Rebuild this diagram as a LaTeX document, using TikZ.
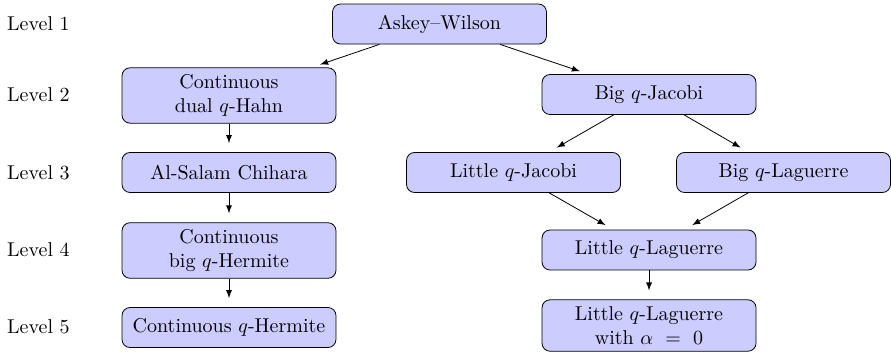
\documentclass[tikz,border=0pt]{standalone}
\begin{document}
\begin{tikzpicture}[>=latex,
    box/.style={draw, fill=blue!20, rounded corners, minimum width=3.76cm,
      minimum height=20pt, align=center},
    level/.style={anchor=west, inner sep=0pt},
    link/.style={->, shorten >=4.5pt}]

    \useasboundingbox (0,0) rectangle (15.657,-6.186);

    % Levels
    \node[level] (l1) at (0.12,-0.42) {Level 1};
    \node[level] (l2) at (0.12,-1.67) {Level 2};
    \node[level] (l3) at (0.12,-3.03) {Level 3};
    \node[level] (l4) at (0.12,-4.39) {Level 4};
    \node[level] (l5) at (0.12,-5.74) {Level 5};

    % Nodes
    \node[box] (aw) at (7.723,-0.422) {Askey--Wilson};
    \node[box] (cdqh) at (4.024,-1.678) {Continuous\\dual $q$-Hahn};
    \node[box] (bqj) at (11.405,-1.661) {Big $q$-Jacobi};
    \node[box] (asc) at (4.024,-3.031) {Al-Salam Chihara};
    \node[box] (lqj) at (9.024,-3.031) {Little $q$-Jacobi};
    \node[box] (bql) at (13.768,-3.031) {Big $q$-Laguerre};
    \node[box] (cbqh) at (4.024,-4.402) {Continuous\\big $q$-Hermite};
    \node[box] (lql) at (11.405,-4.393) {Little $q$-Laguerre};
    \node[box] (cqh) at (4.024,-5.755) {Continuous $q$-Hermite};
    \node[box] (lqlz) at (11.405,-5.720) {Little $q$-Laguerre\\with $\alpha\ =\ 0$};

    % Lines
    \draw[link] (aw) -- (cdqh);
    \draw[link] (aw) -- (bqj);
    \draw[link] (cdqh) -- (asc);
    \draw[link] (asc) -- (cbqh);
    \draw[link] (cbqh) -- (cqh);
    \draw[link] (bqj) -- (lqj);
    \draw[link] (bqj) -- (bql);
    \draw[link] (lqj) -- (lql);
    \draw[link] (bql) -- (lql);
    \draw[link] (lql) -- (lqlz);

\end{tikzpicture}
\end{document}
